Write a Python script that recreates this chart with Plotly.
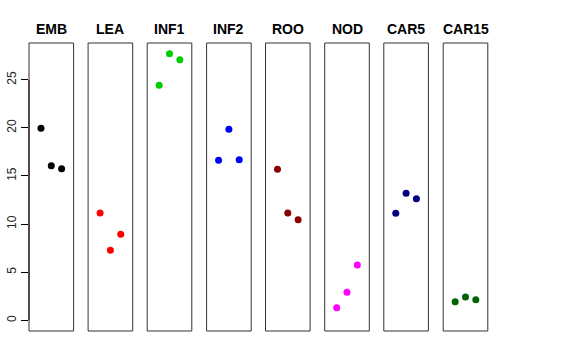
import plotly.graph_objects as go

groups = ["EMB", "LEA", "INF1", "INF2", "ROO", "NOD", "CAR5", "CAR15"]
colors = ["#000000", "#FF0000", "#00CD00", "#0000FF", "#8B0000", "#FF00FF", "#000080", "#006400"]
values = [
    [19.95, 16.07, 15.76],
    [11.15, 7.28, 8.94],
    [24.43, 27.71, 27.09],
    [16.63, 19.85, 16.69],
    [15.70, 11.15, 10.46],
    [1.31, 2.91, 5.75],
    [11.12, 13.20, 12.64],
    [1.93, 2.42, 2.14],
]
reps = [1, 2, 3]
y_ticks = [0, 5, 10, 15, 20, 25]

W, H = 576, 360
ymax = max(max(v) for v in values)
ypad = 0.04 * ymax
yrange = [0 - ypad, ymax + ypad]
xrange = [0 - 0.16, 4 + 0.16]

panel_left = [29.0, 88.1, 147.2, 206.6, 265.5, 324.7, 383.8, 443.2]
panel_w = 44.6
y_top, y_bot = 43.0, 331.0

fig = go.Figure()
layout = dict(
    width=W, height=H,
    margin=dict(l=0, r=0, t=0, b=0, autoexpand=False),
    paper_bgcolor="white", plot_bgcolor="white",
    showlegend=False,
    font=dict(family="Liberation Sans, Arial, sans-serif", color="black"),
)
annotations = []
shapes = []
for i, (g, c, vals) in enumerate(zip(groups, colors, values)):
    xa = "x" if i == 0 else f"x{i+1}"
    ya = "y" if i == 0 else f"y{i+1}"
    fig.add_trace(go.Scatter(
        x=reps, y=vals, mode="markers", xaxis=xa, yaxis=ya,
        marker=dict(color=c, size=7, line=dict(width=0)),
        hoverinfo="skip",
    ))
    x0 = panel_left[i] / W
    x1 = (panel_left[i] + panel_w) / W
    xkey = "xaxis" if i == 0 else f"xaxis{i+1}"
    ykey = "yaxis" if i == 0 else f"yaxis{i+1}"
    layout[xkey] = dict(domain=[x0, x1], range=xrange, showgrid=False, zeroline=False,
                        showticklabels=False, ticks="", showline=False,
                        anchor=ya, fixedrange=True, automargin=False)
    ydict = dict(domain=[(H - y_bot) / H, (H - y_top) / H], range=yrange,
                 showgrid=False, zeroline=False, showline=False,
                 anchor=xa, fixedrange=True, automargin=False)
    if i == 0:
        ydict.update(tickvals=y_ticks, ticktext=[str(t) for t in y_ticks],
                     ticks="outside", ticklen=7, tickcolor="black", tickwidth=1,
                     tickangle=-90, tickfont=dict(size=12, color="#222"),
                     showticklabels=True)
    else:
        ydict.update(showticklabels=False, ticks="")
    layout[ykey] = ydict
    shapes.append(dict(type="rect", xref="paper", yref="paper",
                       x0=x0, x1=x1, y0=(H - y_bot) / H, y1=(H - y_top) / H,
                       line=dict(color="#333333", width=1), fillcolor="rgba(0,0,0,0)",
                       layer="above"))
    annotations.append(dict(text=f"<b>{g}</b>", xref="paper", yref="paper",
                            x=(x0 + x1) / 2, y=(H - 29) / H, xanchor="center",
                            yanchor="middle", showarrow=False,
                            font=dict(size=14, color="black")))

# y axis line from first to last tick
shapes.append(dict(type="line", xref="paper", yref="y",
                   x0=panel_left[0] / W, x1=panel_left[0] / W,
                   y0=y_ticks[0], y1=y_ticks[-1],
                   line=dict(color="black", width=1)))
layout["annotations"] = annotations
layout["shapes"] = shapes
fig.update_layout(**layout)
fig.write_html("out.html", config={"displayModeBar": False},
               post_script="document.body.style.margin='0';document.body.style.overflow='hidden';")
